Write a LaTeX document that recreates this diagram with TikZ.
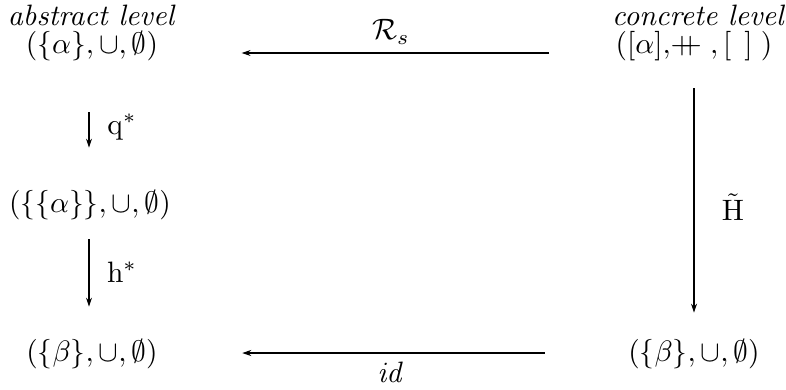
\documentclass[tikz,border=0pt]{standalone}
\usetikzlibrary{arrows.meta}
\newcommand{\cat}{\mathbin{+\mkern-9mu+}}
\begin{document}
\begin{tikzpicture}[x=1pt,y=-1pt,
  every node/.style={inner sep=0pt,scale=2.95},
  arr/.style={line width=1.2pt,-{Stealth[length=9pt,width=6pt]}}]
\useasboundingbox (0,0) rectangle (786,389);
% column / row guides
\coordinate (colL) at (89,0);
\coordinate (colR) at (694,0);
\coordinate (rowT) at (0,53);
\coordinate (rowB) at (0,353);
% nodes
\node (abs) at (91,15) {\itshape abstract level};
\node (con) at (698,15) {\itshape concrete level};
\node (A) at (92,46) {$(\{\alpha\},\cup,\emptyset)$};
\node (C) at (694,46) {$([\alpha],\!\cat\;,[\;\,]\;)$};
\node (B) at (90,205) {$(\{\{\alpha\}\},\cup,\emptyset)$};
\node (D) at (92,354) {$(\{\beta\},\cup,\emptyset)$};
\node (E) at (694,354) {$(\{\beta\},\cup,\emptyset)$};
% labels
\node (rs) at (391,32) {$\mathcal{R}_s$};
\node (id) at (391,372) {$\mathit{id}$};
\node (q) at (122,127) {$\mathrm{q}^*$};
\node (h) at (122,272) {$\mathrm{h}^*$};
\node (H) at (733,207) {$\tilde{\mathrm{H}}$};
% arrows
\draw[arr,shorten <=66pt,shorten >=83pt] (C.west |- rowT) -- (A.east |- rowT);
\draw[arr,shorten <=83pt,shorten >=84pt] (E.west |- rowB) -- (D.east |- rowB);
\draw[arr,shorten <=51pt,shorten >=42pt] (A.south -| colL) -- (B.north -| colL);
\draw[arr,shorten <=19pt,shorten >=32pt] (B.south -| colL) -- (D.north -| colL);
\draw[arr,shorten <=27pt,shorten >=26pt] (C.south -| colR) -- (E.north -| colR);
\end{tikzpicture}
\end{document}
